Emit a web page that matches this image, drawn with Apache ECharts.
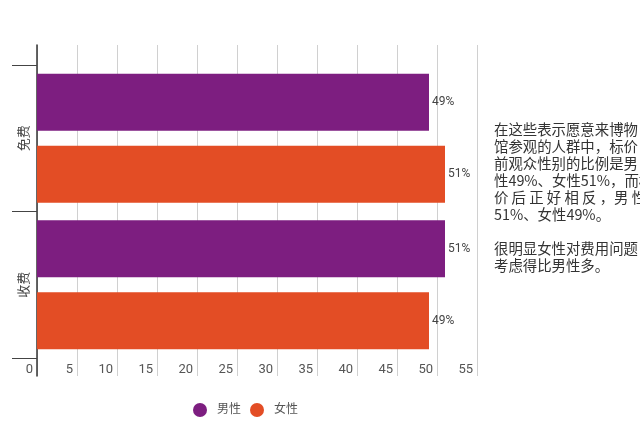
<!DOCTYPE html>
<html>
<head>
<meta charset="utf-8">
<script src="https://cdn.jsdelivr.net/npm/echarts@6/dist/echarts.min.js"></script>
<style>
  html, body { margin: 0; padding: 0; background: #fff; }
  #chart { width: 640px; height: 434px; }
</style>
</head>
<body>
<div id="chart"></div>
<script>
// 票价前后 男女比例 (%)
const categories = ['免费', '收费'];
const maleValues = [49, 51];
const femaleValues = [51, 49];
const seriesNames = ['男性', '女性'];
const noteLines = [
    '在这些表示愿意来博物',
    '馆参观的人群中，标价',
    '前观众性别的比例是男',
    '性49%、女性51%，而标',
    '价 后 正 好 相 反 ，男 性',
    '51%、女性49%。',
    '',
    '很明显女性对费用问题',
    '考虑得比男性多。'
];

const chart = echarts.init(document.getElementById('chart'));
const font = 'Roboto, "Noto Sans CJK SC", sans-serif';

const option = {
    backgroundColor: '#fff',
    textStyle: { fontFamily: font },
    grid: [
        // bars
        { left: 37, right: 163, top: 65, bottom: 76 },
        // taller grid for split lines, y axis line and x labels
        { left: 37, right: 163, top: 45, bottom: 58 }
    ],
    xAxis: [
        { gridIndex: 0, type: 'value', min: 0, max: 55, interval: 5, show: false },
        {
            gridIndex: 1, type: 'value', min: 0, max: 55, interval: 5,
            axisLine: { show: false },
            axisTick: { show: false },
            splitLine: { show: true, lineStyle: { color: '#d0d0d0', width: 1 } },
            axisLabel: {
                inside: true, margin: 0, align: 'right', verticalAlign: 'bottom',
                padding: [0, 4, 0, 0], color: '#555', fontSize: 13, fontFamily: font
            }
        }
    ],
    yAxis: [
        {
            gridIndex: 0, type: 'category', data: categories, inverse: true,
            axisLine: { show: false },
            axisTick: { show: true, length: 25, lineStyle: { color: '#444', width: 1 } },
            axisLabel: { rotate: 90, margin: 6, color: '#444', fontSize: 13, fontFamily: font },
            splitLine: { show: false }
        },
        {
            gridIndex: 1, type: 'value', min: 0, max: 1,
            axisLine: { show: true, lineStyle: { color: '#333', width: 1.5 } },
            axisTick: { show: false },
            axisLabel: { show: false },
            splitLine: { show: false }
        }
    ],
    legend: {
        data: seriesNames,
        left: 188, top: 398,
        icon: 'circle', itemWidth: 14, itemHeight: 14, itemGap: 9,
        textStyle: { color: '#555', fontSize: 12, padding: [0, 0, 0, 5], fontFamily: font }
    },
    graphic: [{
        type: 'text',
        left: 494, top: 121,
        style: {
            text: noteLines.join('\n'),
            font: '14.4px "Noto Sans CJK SC", sans-serif',
            lineHeight: 17,
            fill: '#333'
        }
    }],
    series: [
        {
            name: seriesNames[0], type: 'bar', xAxisIndex: 0, yAxisIndex: 0,
            data: maleValues, barWidth: 57, barGap: '26%',
            itemStyle: { color: '#7d1e80' },
            label: { show: true, position: 'right', distance: 3, formatter: '{c}%', color: '#444', fontSize: 12, fontFamily: font }
        },
        {
            name: seriesNames[1], type: 'bar', xAxisIndex: 0, yAxisIndex: 0,
            data: femaleValues, barWidth: 57, barGap: '26%',
            itemStyle: { color: '#e34d25' },
            label: { show: true, position: 'right', distance: 3, formatter: '{c}%', color: '#444', fontSize: 12, fontFamily: font }
        }
    ]
};

chart.setOption(option);
</script>
</body>
</html>
